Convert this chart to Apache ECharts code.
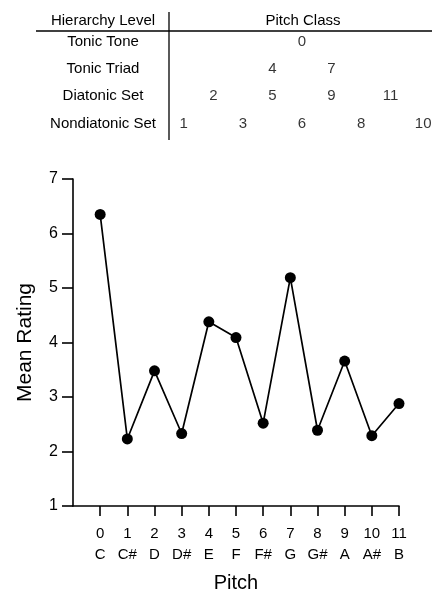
<!DOCTYPE html>
<html>
<head>
<meta charset="utf-8">
<script src="https://cdn.jsdelivr.net/npm/echarts@6/dist/echarts.min.js"></script>
<style>
html,body{margin:0;padding:0;background:#fff;}
#chart{width:432px;height:592px;}
</style>
</head>
<body>
<div id="chart"></div>
<script>
// ---- Data ----
const pitchNumbers = [0,1,2,3,4,5,6,7,8,9,10,11];
const pitchNames = ['C','C#','D','D#','E','F','F#','G','G#','A','A#','B'];
const meanRatings = [6.35,2.23,3.48,2.33,4.38,4.09,2.52,5.19,2.39,3.66,2.29,2.88];
const yTicks = [1,2,3,4,5,6,7];

const hierarchyLevels = ['Tonic Tone','Tonic Triad','Diatonic Set','Nondiatonic Set'];
const tonicTone = [0];
const tonicTriad = [4,7];
const diatonicSet = [2,5,9,11];
const nondiatonicSet = [1,3,6,8,10];
// table column of each pitch class (0..11)
const tableColumn = [4,0,1,2,3,3,4,5,6,5,8.1,7];

// ---- Build ----
const FONT = 'Liberation Sans, Arial, Helvetica, sans-serif';
const lineData = pitchNumbers.map((p,i)=>[p, meanRatings[i]]);
const levelSets = [tonicTone, tonicTriad, diatonicSet, nondiatonicSet];
const tableData = [];
levelSets.forEach((set, li)=>{
  set.forEach(p=>tableData.push({value:[tableColumn[p], hierarchyLevels[li]], pc:p}));
});

const chart = echarts.init(document.getElementById('chart'), null, {renderer:'canvas'});
chart.setOption({
  backgroundColor:'#ffffff',
  animation:false,
  textStyle:{fontFamily:FONT},
  grid:[
    {left:73, right:33, top:179, bottom:86, containLabel:false, outerBoundsMode:'none'},
    {left:169, right:0, top:28, bottom:455, containLabel:false, outerBoundsMode:'none'}
  ],
  xAxis:[
    {
      gridIndex:0, type:'value', min:-1, max:11, interval:1,
      axisLine:{show:true, onZero:false, lineStyle:{color:'#000', width:1.6}},
      axisTick:{show:true, length:10, lineStyle:{color:'#000', width:1.6}, customValues:pitchNumbers},
      axisLabel:{
        customValues:pitchNumbers,
        color:'#000', fontSize:15, fontFamily:FONT, lineHeight:21, margin:17,
        formatter:(v)=>{ const i = Math.round(v); return i>=0 && i<=11 ? pitchNumbers[i] + '\n' + pitchNames[i] : ''; }
      },
      splitLine:{show:false},
      name:'Pitch', nameLocation:'middle', nameGap:67,
      nameTextStyle:{color:'#000', fontSize:20, fontFamily:FONT}
    },
    {
      gridIndex:1, type:'value', min:-0.5, max:8.4, show:false
    }
  ],
  yAxis:[
    {
      gridIndex:0, type:'value', min:1, max:7, interval:1,
      axisLine:{show:true, onZero:false, lineStyle:{color:'#000', width:1.6}},
      axisTick:{show:true, length:11, lineStyle:{color:'#000', width:1.6}},
      axisLabel:{color:'#000', fontSize:16, fontFamily:FONT, margin:15},
      splitLine:{show:false},
      name:'Mean Rating', nameLocation:'middle', nameGap:37,
      nameTextStyle:{color:'#000', fontSize:21, fontFamily:FONT}
    },
    {
      gridIndex:1, type:'category', data:hierarchyLevels, inverse:true,
      axisLine:{show:false}, axisTick:{show:false}, splitLine:{show:false},
      axisLabel:{color:'#000', fontSize:15, fontFamily:FONT, align:'center', margin:66}
    }
  ],
  series:[
    {
      type:'line', xAxisIndex:0, yAxisIndex:0, data:lineData,
      symbol:'circle', symbolSize:11,
      lineStyle:{color:'#000', width:1.7},
      itemStyle:{color:'#000'}
    },
    {
      type:'scatter', xAxisIndex:1, yAxisIndex:1, data:tableData,
      symbolSize:0,
      label:{show:true, position:'inside', color:'#000', fontSize:15, fontFamily:FONT,
        formatter:(p)=>String(p.data.pc)}
    }
  ],
  graphic:[
    {type:'line', shape:{x1:36, y1:31, x2:432, y2:31}, style:{stroke:'#000', lineWidth:1.3}},
    {type:'line', shape:{x1:169, y1:12, x2:169, y2:140}, style:{stroke:'#000', lineWidth:1.3}},
    {type:'text', x:103, y:21, style:{text:'Hierarchy Level', fill:'#000', font:'15px '+FONT, textAlign:'center', textVerticalAlign:'middle'}},
    {type:'text', x:303, y:21, style:{text:'Pitch Class', fill:'#000', font:'15px '+FONT, textAlign:'center', textVerticalAlign:'middle'}}
  ]
});
</script>
</body>
</html>
